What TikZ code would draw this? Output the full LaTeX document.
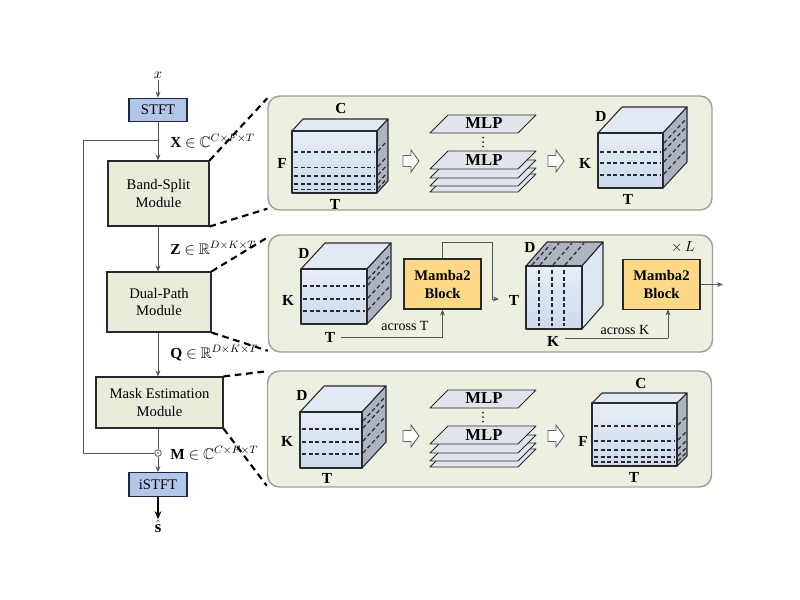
\documentclass[tikz,border=0pt]{standalone}
\usepackage{amssymb}
\usepackage{fontspec}
\setmainfont{Liberation Serif}
\usetikzlibrary{arrows.meta,calc}
\definecolor{panelfill}{RGB}{236,240,224}
\definecolor{panelline}{RGB}{160,160,155}
\definecolor{modfill}{RGB}{232,237,219}
\definecolor{stftfill}{RGB}{180,198,231}
\definecolor{stftline}{RGB}{30,40,70}
\definecolor{cubeA}{RGB}{230,238,247}
\definecolor{cubeB}{RGB}{204,218,237}
\definecolor{cubetop}{RGB}{226,234,245}
\definecolor{cubeside}{RGB}{172,180,192}
\definecolor{cubelight}{RGB}{222,230,242}
\definecolor{mambafill}{RGB}{253,216,135}
\definecolor{mlpfill}{RGB}{224,228,235}
\definecolor{linegray}{RGB}{85,85,85}
\definecolor{edgecol}{RGB}{40,40,45}
\tikzset{
  cubeedge/.style={draw=edgecol,line width=0.8pt,line join=round},
  cdash/.style={draw=edgecol,line width=0.9pt,dash pattern=on 3pt off 2pt},
  panel/.style={draw=panelline,fill=panelfill,line width=1.1pt,rounded corners=9pt,minimum width=333pt},
  module/.style={draw=edgecol,fill=modfill,line width=0.8pt,align=center,font=\fontsize{11}{13}\selectfont},
  stftbox/.style={draw=stftline,fill=stftfill,line width=0.9pt,font=\fontsize{11}{13}\selectfont,minimum width=43.5pt,minimum height=17.5pt,inner sep=0pt},
  mamba/.style={draw=edgecol,fill=mambafill,line width=0.8pt,align=center,font=\fontsize{11}{13.5}\selectfont\bfseries,minimum width=57.75pt,minimum height=37.5pt},
  arr/.style={draw=linegray,line width=0.6pt,-{Stealth[length=4.5pt,width=3.6pt]}},
  plainline/.style={draw=linegray,line width=0.6pt},
  outarr/.style={draw=black,line width=1pt,-{Stealth[length=6pt,width=5pt]}},
  zoomdash/.style={draw=black,line width=1.6pt,dash pattern=on 5pt off 3.5pt},
  lbl/.style={font=\fontsize{11.5}{13}\selectfont\bfseries,inner sep=0pt},
  mlplbl/.style={font=\fontsize{12.5}{13}\selectfont\bfseries,inner sep=0pt},
  eqlbl/.style={font=\fontsize{11.5}{13}\selectfont,anchor=west,inner sep=0pt},
  mlp/.style={draw=edgecol,fill=mlpfill,line width=0.7pt,line join=round},
  hollow/.style={draw=gray!80!black,fill=white,line width=0.7pt,line join=miter},
}
% #1 L, #2 T, #3 R, #4 B, #5 dx, #6 dy(up), #7 top fill, #8 side fill
\newcommand{\cubeshape}[8]{%
  \draw[cubeedge,fill=#7] (#1,#2) -- ({#1+#5},{#2-#6}) -- ({#3+#5},{#2-#6}) -- (#3,#2) -- cycle;
  \draw[cubeedge,fill=#8] (#3,#2) -- ({#3+#5},{#2-#6}) -- ({#3+#5},{#4-#6}) -- (#3,#4) -- cycle;
  \draw[cubeedge,top color=cubeA,bottom color=cubeB] (#1,#2) rectangle (#3,#4);
}
% horizontal dashes: #1 L, #2 R, #3 dx, #4 dy, #5 list of y
\newcommand{\hdashes}[5]{%
  \foreach \yy in {#5} {%
    \draw[cdash] (#1+2,\yy) -- (#2-2,\yy);
    \draw[cdash] ({#2+1},{\yy-1}) -- ({#2+#3-1},{\yy-#4+1});
  }%
}
% hollow arrow: #1 left x, #2 centre y
\newcommand{\hollowarrow}[2]{%
  \draw[hollow] (#1,{#2-5.5}) -- ({#1+8},{#2-5.5}) -- ({#1+8},{#2-11}) -- ({#1+16},#2) -- ({#1+8},{#2+11}) -- ({#1+8},{#2+5.5}) -- (#1,{#2+5.5}) -- cycle;
}
% mlp layer: #1 left x, #2 bottom y
\newcommand{\mlplayer}[2]{%
  \draw[mlp] (#1,#2) -- ({#1+88},#2) -- ({#1+106},{#2-18}) -- ({#1+18},{#2-18}) -- cycle;
}
% vertical dots: #1 x, #2 centre y
\newcommand{\vdotsmark}[2]{%
  \foreach \dd in {-4.5,0,4.5} {\fill[edgecol] (#1,{#2+\dd}) circle (0.75pt);}
}
\begin{document}
\begin{tikzpicture}[x=0.75pt,y=-0.75pt]
\useasboundingbox (0,0) rectangle (800,600);

% ---------------- panels ----------------
\node[panel,minimum height=85.5pt] (p1) at (490,153) {};
\node[panel,minimum height=87.75pt] (p2) at (490.5,293.5) {};
\node[panel,minimum height=87pt] (p3) at (489.5,429) {};

% ---------------- left column ----------------
\node[inner sep=1pt,font=\fontsize{11}{13}\selectfont] (xin) at (158,75) {$x$};
\node[stftbox] (stft) at (158,110) {STFT};
\node[module,minimum width=75.75pt,minimum height=48.75pt] (band) at (158.5,193.5) {Band-Split\\Module};
\node[module,minimum width=78pt,minimum height=45pt] (dual) at (159,302) {Dual-Path\\Module};
\node[module,minimum width=95.25pt,minimum height=38.25pt] (mask) at (159.5,402.5) {Mask Estimation\\Module};
\node[circle,draw=linegray,fill=white,line width=0.6pt,inner sep=0pt,minimum size=5pt] (odot) at (158,453) {};
\fill[linegray] (odot.center) circle (0.7pt);
\node[stftbox] (istft) at (158,484.5) {iSTFT};
\node[inner sep=1pt,font=\fontsize{12.5}{13}\selectfont] (shat) at (158,527) {$\hat{\mathbf{s}}$};

\coordinate (fb) at (158,140);
\coordinate (fbcorner) at (83,140);
\draw[arr] (xin) -- (stft);
\draw[arr] (stft) -- (band.north -| stft);
\draw[arr] (band.south -| stft) -- (dual.north -| stft);
\draw[arr] (dual.south -| stft) -- (mask.north -| stft);
\draw[plainline] (mask.south -| stft) -- (odot);
\draw[arr] (odot) -- (istft);
\draw[outarr] (istft) -- (shat);
\draw[plainline] (fb) -- (fbcorner) |- (odot);

\node[eqlbl] (xlab) at (170,141) {\textbf{X} $\in$ $\mathbb{C}^{C\times F\times T}$};
\node[eqlbl] (zlab) at (170,248) {\textbf{Z} $\in$ $\mathbb{R}^{D\times K\times T}$};
\node[eqlbl] (qlab) at (170,353) {\textbf{Q} $\in$ $\mathbb{R}^{D\times K\times T}$};
\node[eqlbl] (mlab) at (170,453) {\textbf{M} $\in$ $\mathbb{C}^{C\times F\times T}$};

% zoom connectors
\draw[zoomdash] (band.north east) -- ($(p1.north west)+(0,3)$);
\draw[zoomdash] (band.south east) -- ($(p1.south west)+(0,-2)$);
\draw[zoomdash] (dual.north east) -- ($(p2.north west)+(0,3)$);
\draw[zoomdash] (dual.south east) -- ($(p2.south west)+(0,-2)$);
\draw[zoomdash] (mask.north east) -- ($(p3.north west)+(0,1)$);
\draw[zoomdash] (mask.south east) -- ($(p3.south west)+(0,-2)$);

% ---------------- panel 1 ----------------
\cubeshape{292}{131}{377}{193}{11}{12}{cubetop}{cubeside}
\hdashes{292}{377}{11}{12}{152,167.5,176,184,189.5}
\node[lbl] (c1C) at (341,108) {C};
\node[lbl] (c1F) at (282,163) {F};
\node[lbl] (c1T) at (335,204) {T};

\hollowarrow{403}{161}

\mlplayer{430}{133}
\node[mlplbl] (mlpA) at (484,123.5) {MLP};
\vdotsmark{483}{142}
\mlplayer{430}{192}
\mlplayer{430}{186}
\mlplayer{430}{178}
\mlplayer{430}{169}
\node[mlplbl] (mlpB) at (484,160) {MLP};

\hollowarrow{548}{161}

\cubeshape{598}{133}{663}{188}{24}{26}{cubetop}{cubeside}
\hdashes{598}{663}{24}{26}{152,163,175}
\draw[cdash] (664,{143}) -- (686,{119});
\node[lbl] (c2D) at (601,116) {D};
\node[lbl] (c2K) at (585,163) {K};
\node[lbl] (c2T) at (628,199) {T};

% ---------------- panel 2 ----------------
\cubeshape{301}{269}{367}{324}{24}{26}{cubetop}{cubeside}
\hdashes{301}{367}{24}{26}{286,299,311}
\draw[cdash] (368,279) -- (390,255);
\node[lbl] (c3D) at (304,253) {D};
\node[lbl] (c3K) at (288,300) {K};
\node[lbl] (c3T) at (330,337) {T};

\node[mamba] (m1) at (442.5,284) {Mamba2\\Block};
\coordinate (m1up) at (442.5,242);
\coordinate (m1right) at (492,242);
\coordinate (m1down) at (492,299);
\coordinate (m1tip) at (499,299);
\draw[plainline] (m1.north) -- (m1up) -- (m1right) -- (m1down);
\draw[arr] (m1down) -- (m1tip);
\coordinate (acrT) at (442.5,337);
\draw[plainline] (c3T.east) ++(6,0) -- (acrT);
\draw[arr] (acrT) -- (m1.south);
\node[inner sep=0pt,font=\fontsize{10.5}{12}\selectfont] (acrTlab) at (405,326) {across T};

% cube 4: T x K with D as depth
\cubeshape{526}{266}{582}{329}{21}{24}{cubeside}{cubelight}
\foreach \xx in {539,552,564} {
  \draw[cdash] (\xx,270) -- (\xx,326);
  \draw[cdash] ({\xx+1},265) -- ({\xx+20},243);
}
\draw[cdash] (532,265) -- (550,245);
\node[lbl] (c4D) at (530,247) {D};
\node[lbl] (c4T) at (514,300) {T};
\node[lbl] (c4K) at (553,341) {K};

\node[mamba] (m2) at (661.5,284.5) {Mamba2\\Block};
\coordinate (acrK) at (668,338);
\coordinate (m2in) at (668,309.3);
\draw[plainline] (c4K.east) ++(6,-3) -- (acrK);
\draw[arr] (acrK) -- (m2in);
\node[inner sep=0pt,font=\fontsize{10.5}{12}\selectfont] (acrKlab) at (625,330) {across K};
\coordinate (m2out) at (723,284.5);
\draw[arr] (m2.east) -- (m2out);
\node[inner sep=0pt,font=\fontsize{11}{13}\selectfont] (times) at (683,247) {$\times\,L$};

% ---------------- panel 3 ----------------
\cubeshape{300}{412}{362}{468}{24}{26}{cubetop}{cubeside}
\hdashes{300}{362}{24}{26}{429,442,454}
\draw[cdash] (363,421) -- (385,397);
\node[lbl] (c5D) at (302,395) {D};
\node[lbl] (c5K) at (287,441) {K};
\node[lbl] (c5T) at (327,478) {T};

\hollowarrow{403}{436}

\mlplayer{430}{408}
\node[mlplbl] (mlpC) at (484,398.5) {MLP};
\vdotsmark{483}{417}
\mlplayer{430}{467}
\mlplayer{430}{461}
\mlplayer{430}{453}
\mlplayer{430}{444}
\node[mlplbl] (mlpD) at (484,435) {MLP};

\hollowarrow{548}{436}

\cubeshape{592}{403}{677}{466}{10}{10}{cubetop}{cubeside}
\hdashes{592}{677}{10}{10}{426,441,450,457,462}
\node[lbl] (c6C) at (641,383) {C};
\node[lbl] (c6F) at (583,441) {F};
\node[lbl] (c6T) at (634,477) {T};
\end{tikzpicture}
\end{document}
